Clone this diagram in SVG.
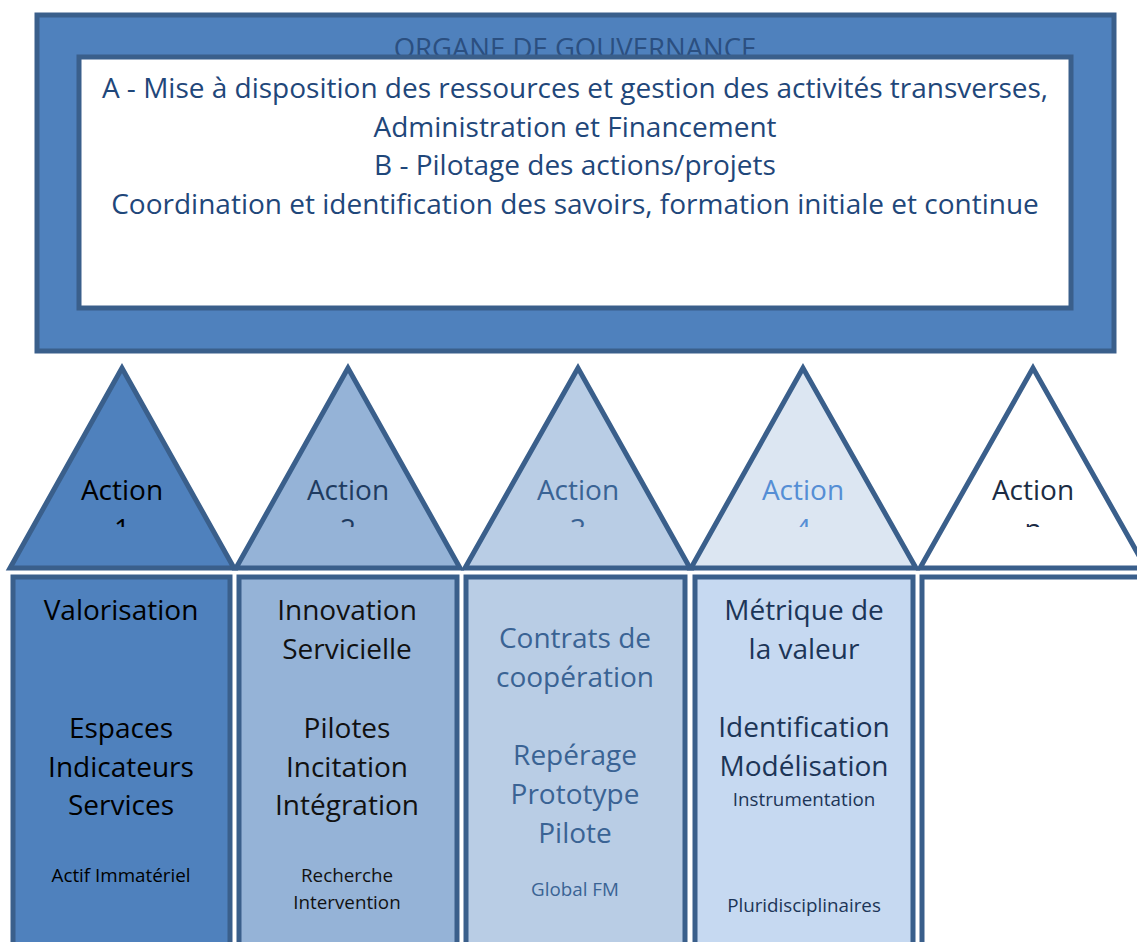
<svg xmlns="http://www.w3.org/2000/svg" width="1137" height="942" viewBox="0 0 1137 942">
<style>
.f{font-family:"Open Sans","Liberation Sans",sans-serif;text-anchor:middle}
.stk{stroke:#3a5f8b;stroke-width:5}
.big{font-size:28px}
.sm{font-size:18.8px}
.hd{font-size:28px;fill:#1f477a}
</style>
<defs>
<clipPath id="clipA"><rect x="0" y="360" width="1137" height="167"/></clipPath>
</defs>
<rect width="1137" height="942" fill="#ffffff"/>
<g id="governance">
<rect x="37" y="15" width="1077" height="336" fill="#4f81bd" class="stk"/>
<text class="f" x="575" y="58" font-size="27.5" fill="#2b4f80">ORGANE DE GOUVERNANCE</text>
<rect x="79" y="57" width="992" height="251" fill="#ffffff" class="stk"/>
<text class="f hd" x="575" y="98">A - Mise à disposition des ressources et gestion des activités transverses,</text>
<text class="f hd" x="575" y="137">Administration et Financement</text>
<text class="f hd" x="575" y="175">B - Pilotage des actions/projets</text>
<text class="f hd" x="575" y="214">Coordination et identification des savoirs, formation initiale et continue</text>
</g>
<g id="action1">
<polygon points="122,368 10,568 234,568" fill="#4f81bd" class="stk" stroke-linejoin="miter"/>
<g clip-path="url(#clipA)"><text class="f big" x="122" y="500" fill="#000000">Action</text><text class="f big" x="122" y="539" fill="#000000">1</text></g>
</g>
<g id="action2">
<polygon points="348,368 236,568 460,568" fill="#95b3d7" class="stk"/>
<g clip-path="url(#clipA)"><text class="f big" x="348" y="500" fill="#1f3b60">Action</text><text class="f big" x="348" y="539" fill="#1f3b60">2</text></g>
</g>
<g id="action3">
<polygon points="578,368 465,568 690,568" fill="#b9cde5" class="stk"/>
<g clip-path="url(#clipA)"><text class="f big" x="578" y="500" fill="#3a6394">Action</text><text class="f big" x="578" y="539" fill="#3a6394">3</text></g>
</g>
<g id="action4">
<polygon points="803,368 691,568 916,568" fill="#dce6f2" class="stk"/>
<g clip-path="url(#clipA)"><text class="f big" x="803" y="500" fill="#558ed5">Action</text><text class="f big" x="803" y="539" fill="#558ed5">4</text></g>
</g>
<g id="actionN">
<polygon points="1033,368 920,568 1146,568" fill="#ffffff" class="stk"/>
<g clip-path="url(#clipA)"><text class="f big" x="1033" y="500" fill="#1c2c44">Action</text><text class="f big" x="1033" y="539" fill="#1c2c44">n</text></g>
</g>
<g id="col1">
<rect x="13" y="577" width="217" height="380" fill="#4f81bd" class="stk"/>
<g class="f" fill="#000000">
<text class="big" x="121" y="620">Valorisation</text>
<text class="big" x="121" y="738">Espaces</text>
<text class="big" x="121" y="777">Indicateurs</text>
<text class="big" x="121" y="815">Services</text>
<text class="sm" x="121" y="882">Actif Immatériel</text>
</g>
</g>
<g id="col2">
<rect x="239" y="577" width="218" height="380" fill="#95b3d7" class="stk"/>
<g class="f" fill="#111111">
<text class="big" x="347" y="620">Innovation</text>
<text class="big" x="347" y="659">Servicielle</text>
<text class="big" x="347" y="738">Pilotes</text>
<text class="big" x="347" y="777">Incitation</text>
<text class="big" x="347" y="815">Intégration</text>
<text class="sm" x="347" y="882">Recherche</text>
<text class="sm" x="347" y="909">Intervention</text>
</g>
</g>
<g id="col3">
<rect x="466" y="577" width="219" height="380" fill="#b9cde5" class="stk"/>
<g class="f" fill="#3a6394">
<text class="big" x="575" y="648">Contrats de</text>
<text class="big" x="575" y="687">coopération</text>
<text class="big" x="575" y="765">Repérage</text>
<text class="big" x="575" y="804">Prototype</text>
<text class="big" x="575" y="843">Pilote</text>
<text class="sm" x="575" y="896">Global FM</text>
</g>
</g>
<g id="col4">
<rect x="695" y="577" width="218" height="380" fill="#c6d9f1" class="stk"/>
<g class="f" fill="#1c3557">
<text class="big" x="804" y="620">Métrique de</text>
<text class="big" x="804" y="659">la valeur</text>
<text class="big" x="804" y="737">Identification</text>
<text class="big" x="804" y="776">Modélisation</text>
<text class="sm" x="804" y="806">Instrumentation</text>
<text class="sm" x="804" y="912">Pluridisciplinaires</text>
</g>
</g>
<g id="colN">
<rect x="922" y="577" width="230" height="380" fill="#ffffff" class="stk"/>
</g>
</svg>
